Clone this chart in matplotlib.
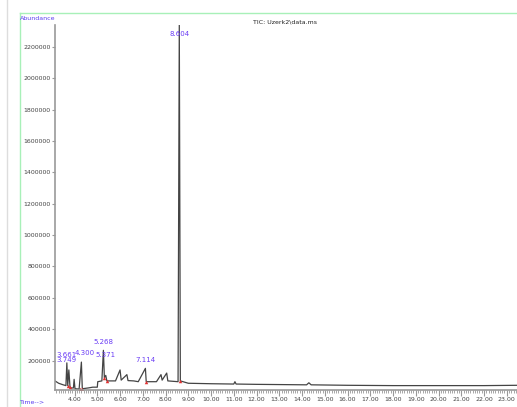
import matplotlib
matplotlib.use("Agg")
import matplotlib.pyplot as plt
from matplotlib.lines import Line2D
from matplotlib.ticker import MultipleLocator, FixedLocator

# trace (time in min, abundance)
times = [3.14, 3.30, 3.50, 3.62, 3.661, 3.70, 3.749, 3.80, 3.85, 3.95, 3.98, 4.02,
         4.20, 4.300, 4.34, 4.60, 4.80, 5.00, 5.02, 5.20, 5.268, 5.31, 5.371, 5.42,
         5.80, 6.00, 6.05, 6.30, 6.35, 6.60, 6.80, 7.114, 7.15, 7.60, 7.80, 7.85,
         8.05, 8.10, 8.55, 8.604, 8.65, 9.00, 10.00, 11.00, 11.05, 11.10, 12.00,
         14.20, 14.30, 14.40, 16.00, 18.00, 20.00, 22.00, 23.45]
abund = [70000, 55000, 45000, 40000, 185000, 40000, 140000, 30000, 25000, 25000, 80000, 20000,
         18000, 190000, 20000, 25000, 30000, 30000, 65000, 70000, 265000, 90000, 105000, 70000,
         70000, 140000, 75000, 110000, 72000, 70000, 65000, 150000, 65000, 65000, 110000, 75000,
         120000, 70000, 65000, 2340000, 70000, 55000, 52000, 50000, 65000, 50000, 48000,
         45000, 58000, 45000, 42000, 40000, 40000, 40000, 42000]

peak_rt = [3.661, 3.749, 4.300, 5.268, 5.371, 7.114, 8.604]
peak_lbl = ["3.661", "3.749", "4.300", "5.268", "5.371", "7.114", "8.604"]
label_rt = [3.63, 3.66, 4.45, 5.268, 5.371, 7.114, 8.604]
label_val = [215000, 185000, 230000, 300000, 215000, 185000, 2265000]

mark_rt = [3.70, 3.80, 4.25, 4.34, 5.31, 5.42, 7.15, 8.65]
mark_val = [40000, 30000, 18000, 20000, 90000, 70000, 65000, 70000]

yticks = [200000, 400000, 600000, 800000, 1000000, 1200000, 1400000,
          1600000, 1800000, 2000000, 2200000]
xticks = [4, 5, 6, 7, 8, 9, 10, 11, 12, 13, 14, 15, 16, 17, 18, 19, 20, 21, 22, 23]

W, H = 517, 407
fig = plt.figure(figsize=(W / 100, H / 100), dpi=100)
ax = fig.add_axes([55 / W, 1 - 390 / H, 1 - 55 / W, (390 - 25) / H])

ax.plot(times, abund, color="#444444", lw=0.9)
ax.plot(mark_rt, mark_val, "^", color="#e03030", ms=2.5, mew=0)
for x, lbl, v in zip(label_rt, peak_lbl, label_val):
    ax.text(x, v, lbl, color="#6a3cf5", fontsize=5, ha="center", va="bottom")

ax.set_xlim(3.14, 23.45)
ax.set_ylim(12000, 2340000)
ax.yaxis.set_major_locator(FixedLocator(yticks))
ax.set_yticklabels([str(v) for v in yticks])
ax.xaxis.set_major_locator(FixedLocator(xticks))
ax.set_xticklabels(["%.2f" % v for v in xticks])
ax.xaxis.set_minor_locator(MultipleLocator(0.1))

for s in ["top", "right"]:
    ax.spines[s].set_visible(False)
for s in ["left", "bottom"]:
    ax.spines[s].set_color("#999999")
    ax.spines[s].set_linewidth(1.2)
ax.tick_params(axis="y", labelsize=4.5, length=2, color="#999999", pad=1, labelcolor="#444444")
ax.tick_params(axis="x", which="major", labelsize=4.5, length=4, color="#999999", pad=1,
               labelcolor="#444444")
ax.tick_params(axis="x", which="minor", length=2, color="#999999")

# frame lines around the plot area
fig.add_artist(Line2D([20 / W, 1], [1 - 13 / H, 1 - 13 / H], color="#a8f0b8", lw=1))
fig.add_artist(Line2D([20 / W, 20 / W], [0, 1 - 13 / H], color="#a8f0b8", lw=1))
fig.add_artist(Line2D([7 / W, 7 / W], [0, 1], color="#dddddd", lw=1))

fig.text(20 / W, 1 - 19 / H, "Abundance", color="#5a3cf0", fontsize=4.5, va="center")
fig.text(253 / W, 1 - 22 / H, "TIC: Uzerk2\\data.ms", color="#222222", fontsize=4.5, va="center")
fig.text(20 / W, 1 - 402 / H, "Time-->", color="#5a3cf0", fontsize=4.5, va="center")

fig.savefig("out.png", dpi=100)
